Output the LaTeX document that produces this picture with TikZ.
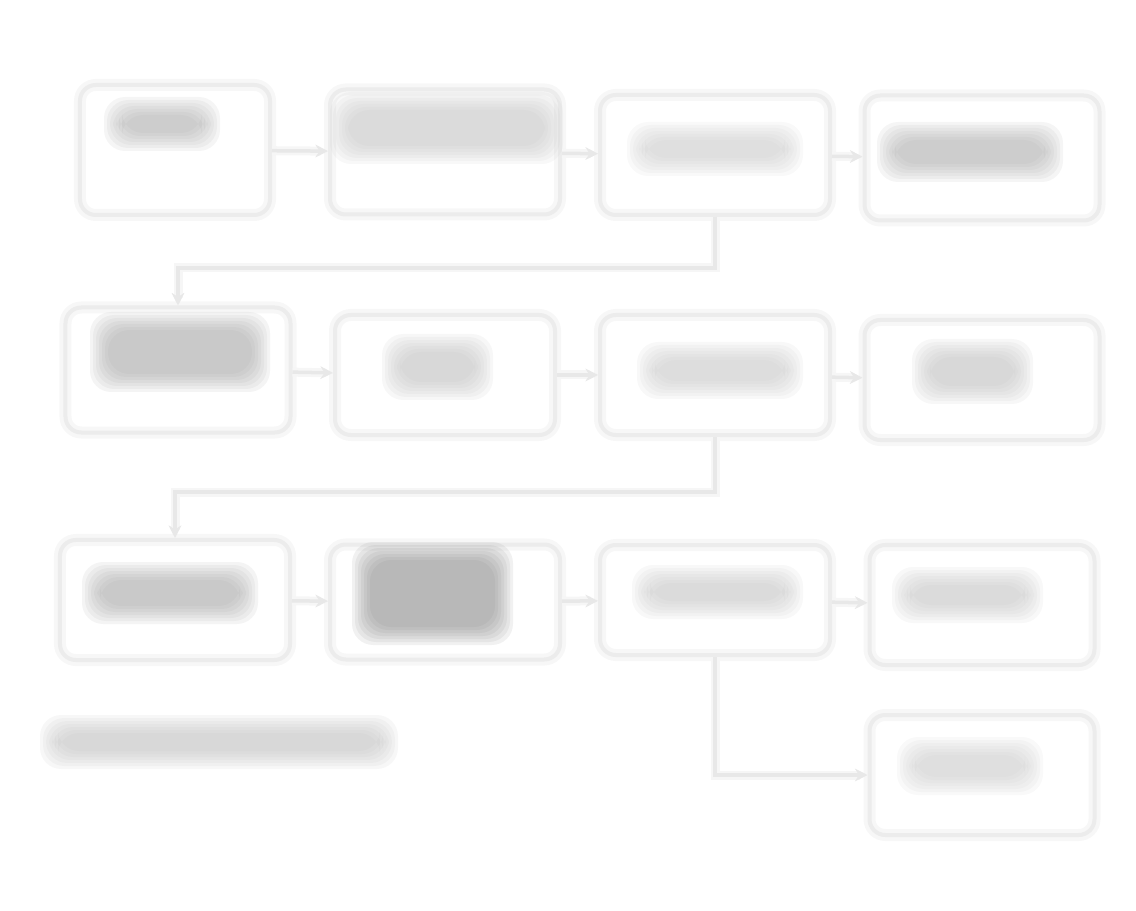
\documentclass[tikz,border=0pt]{standalone}
\usetikzlibrary{arrows.meta}
\tikzset{box/.style={draw=gray!15, line width=0.8mm, rounded corners=9pt,
    preaction={draw=gray!6, line width=2.4mm}, inner sep=0pt},
%lines between the boxes
link/.style={draw=gray!18, line width=0.7mm, preaction={draw=gray!7, line width=1.8mm}},
tip/.style={link, -{Stealth[length=2.5mm,width=2.5mm]}}}

% blurred print of a label that can not be read
\newcommand{\smudge}[5]{%
  \foreach \e in {18,15,12,9,6,3,0}
    \fill[#5, opacity=0.11, rounded corners=12pt] (#1-\e,#2-\e) rectangle (#3+\e,#4+\e);
}

\begin{document}
\begin{tikzpicture}[x=0.2mm, y=-0.2mm]

    \useasboundingbox (0,0) rectangle (1136,911);

    \node[box, minimum width=38mm, minimum height=26mm] (chkA) at (175,150) {};
    \node[box, minimum width=46mm, minimum height=25mm] (chkB) at (445,152) {};
    \node[box, minimum width=46mm, minimum height=24mm] (chkC) at (715,155) {};
    \node[box, minimum width=47mm, minimum height=25mm] (chkD) at (982,158) {};

    \node[box, minimum width=45mm, minimum height=25mm] (chkE) at (178,370) {};
    \node[box, minimum width=44mm, minimum height=24mm] (chkF) at (445,375) {};
    \node[box, minimum width=46mm, minimum height=24mm] (chkG) at (715,375) {};
    \node[box, minimum width=47mm, minimum height=24mm] (chkH) at (982,380) {};

    \node[box, minimum width=46mm, minimum height=24mm] (chkI) at (175,600) {};
    \node[box, minimum width=46mm, minimum height=23mm] (chkJ) at (445,602) {};
    \node[box, minimum width=46mm, minimum height=22mm] (chkK) at (715,600) {};
    \node[box, minimum width=45mm, minimum height=24mm] (chkL) at (982,605) {};
    \node[box, minimum width=45mm, minimum height=24mm] (chkM) at (982,775) {};

    \coordinate (turn1) at (715,268);
    \coordinate (back1) at (178,268);
    \coordinate (turn2) at (715,492);
    \coordinate (back2) at (175,492);
    \coordinate (turn3) at (715,775);

    \foreach \a/\b in {chkA/chkB,chkB/chkC,chkC/chkD,chkE/chkF,chkF/chkG,chkG/chkH,chkI/chkJ,chkJ/chkK,chkK/chkL}
    \draw[tip] (\a) -- (\b);

    \draw[tip] (chkC.south) -- (turn1) -- (back1) -- (chkE.north);
    \draw[tip] (chkG.south) -- (turn2) -- (back2) -- (chkI.north);
    \draw[tip] (chkK.south) -- (turn3) -- (chkM.west);

    \smudge{122}{115}{202}{133}{gray!70}
    \smudge{348}{110}{545}{146}{gray!50}
    \smudge{645}{140}{785}{158}{gray!45}
    \smudge{895}{140}{1045}{164}{gray!70}
    \smudge{108}{330}{252}{374}{gray!75}
    \smudge{400}{352}{475}{382}{gray!55}
    \smudge{655}{360}{785}{381}{gray!48}
    \smudge{930}{357}{1015}{386}{gray!55}
    \smudge{100}{580}{240}{606}{gray!75}
    \smudge{370}{560}{495}{627}{gray!100}
    \smudge{650}{583}{785}{601}{gray!50}
    \smudge{910}{585}{1025}{605}{gray!50}
    \smudge{915}{755}{1025}{777}{gray!45}
    \smudge{58}{733}{380}{751}{gray!55}

  \end{tikzpicture}
\end{document}
